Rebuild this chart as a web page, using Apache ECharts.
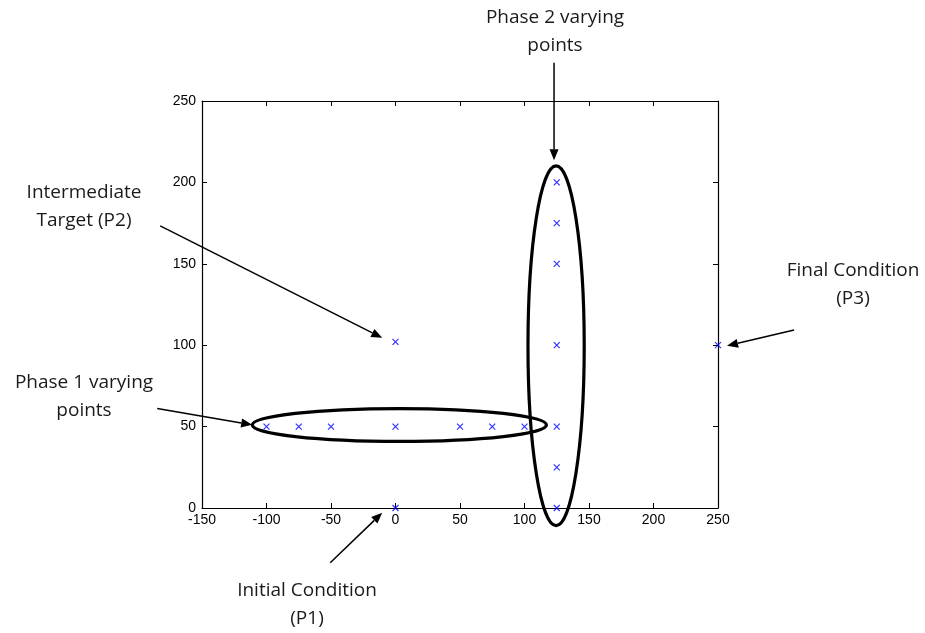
<!DOCTYPE html>
<html><head><meta charset="utf-8">
<script src="https://cdn.jsdelivr.net/npm/echarts@6/dist/echarts.min.js"></script>
<style>html,body{margin:0;padding:0;background:#fff}#c{width:925px;height:633px}</style>
</head><body><div id="c"></div>
<script>
// ---- data ----
const xTicks = [-150, -100, -50, 0, 50, 100, 150, 200, 250];
const yTicks = [0, 50, 100, 150, 200, 250];
const phase1X = [-100, -75, -50, 0, 50, 75, 100];
const phase1Y = [50, 50, 50, 50, 50, 50, 50];
const phase2X = [125, 125, 125, 125, 125, 125, 125];
const phase2Y = [0, 25, 50, 100, 150, 175, 200];
const initialPoint = [0, 0];
const intermediatePoint = [0, 102];
const finalPoint = [250, 100];
// ellipses around the varying points (data units)
const ellipseCenters = [[3, 51], [124.5, 99.7]];
const ellipseRadii = [[114, 10.1], [21.8, 110.5]];
// annotation arrows: tail -> tip, data units
const arrowTails = [[122.9, 273.5], [-182.4, 173.3], [309, 109.4], [-184.7, 61.1], [-50.6, -33.6]];
const arrowTips = [[122.9, 213.6], [-10.3, 104.5], [257, 99.6], [-111.1, 51.1], [-10.3, -2.9]];
const labels = [
  ['Phase 2 varying', 'points'],
  ['Intermediate', 'Target (P2)'],
  ['Final Condition', '(P3)'],
  ['Phase 1 varying', 'points'],
  ['Initial Condition', '(P1)']
];
const labelAnchors = [[555, 18], [84, 193], [853, 271], [84, 383], [307, 591]];

// ---- chart ----
const chart = echarts.init(document.getElementById('c'));
const pts = [];
phase1X.forEach((x, i) => pts.push([x, phase1Y[i]]));
phase2X.forEach((x, i) => pts.push([x, phase2Y[i]]));
pts.push(initialPoint, intermediatePoint, finalPoint);

const axisCommon = {
  type: 'value', min: -150, max: 250, interval: 50,
  axisLine: {show: true, onZero: false, lineStyle: {color: '#000', width: 1.2}},
  axisTick: {show: true, inside: true, length: 5, lineStyle: {color: '#000'}},
  splitLine: {show: false}
};
const tickFont = {color: '#000', fontSize: 14, fontFamily: 'Liberation Sans, Arial, sans-serif'};
chart.setOption({
  animation: false,
  grid: {left: 202, right: 207, top: 101, bottom: 125, containLabel: false},
  xAxis: [
    Object.assign({}, axisCommon, {position: 'bottom', axisLabel: Object.assign({margin: 5}, tickFont)}),
    Object.assign({}, axisCommon, {position: 'top', axisLabel: {show: false}})
  ],
  yAxis: [
    Object.assign({}, axisCommon, {min: 0, max: 250, position: 'left', axisLabel: Object.assign({margin: 6}, tickFont)}),
    Object.assign({}, axisCommon, {min: 0, max: 250, position: 'right', axisLabel: {show: false}})
  ],
  series: [{
    type: 'scatter',
    data: pts,
    symbol: 'path://M0,0L10,10M10,0L0,10',
    symbolSize: 6,
    itemStyle: {color: 'transparent', borderColor: '#0000ff', borderWidth: 1.2},
    z: 5
  }]
});

const elems = [];
// ellipses
ellipseCenters.forEach((c, i) => {
  const p = chart.convertToPixel({gridIndex: 0}, c);
  const e = chart.convertToPixel({gridIndex: 0}, [c[0] + ellipseRadii[i][0], c[1] + ellipseRadii[i][1]]);
  elems.push({
    type: 'ellipse',
    shape: {cx: p[0], cy: p[1], rx: Math.abs(e[0] - p[0]), ry: Math.abs(e[1] - p[1])},
    style: {fill: 'none', stroke: '#000', lineWidth: 3.2},
    z: 10
  });
});
// arrows
arrowTails.forEach((t, i) => {
  const a = chart.convertToPixel({gridIndex: 0}, t);
  const b = chart.convertToPixel({gridIndex: 0}, arrowTips[i]);
  const dx = b[0] - a[0], dy = b[1] - a[1];
  const L = Math.hypot(dx, dy), ux = dx / L, uy = dy / L;
  const hl = 11, hw = 4.5;
  const bx = b[0] - ux * hl, by = b[1] - uy * hl;
  elems.push({type: 'line', shape: {x1: a[0], y1: a[1], x2: bx, y2: by}, style: {stroke: '#000', lineWidth: 1.5}, z: 11});
  elems.push({type: 'polygon', shape: {points: [[b[0], b[1]], [bx - uy * hw, by + ux * hw], [bx + uy * hw, by - ux * hw]]}, style: {fill: '#000'}, z: 11});
});
// labels
labels.forEach((lines, i) => {
  lines.forEach((s, j) => {
    elems.push({
      type: 'text', x: labelAnchors[i][0], y: labelAnchors[i][1] + j * 28,
      style: {text: s, fill: '#1a1a1a', font: '19px "Open Sans", sans-serif', textAlign: 'center', textVerticalAlign: 'middle'},
      z: 12
    });
  });
});
chart.setOption({graphic: {elements: elems}});
</script>
</body></html>
